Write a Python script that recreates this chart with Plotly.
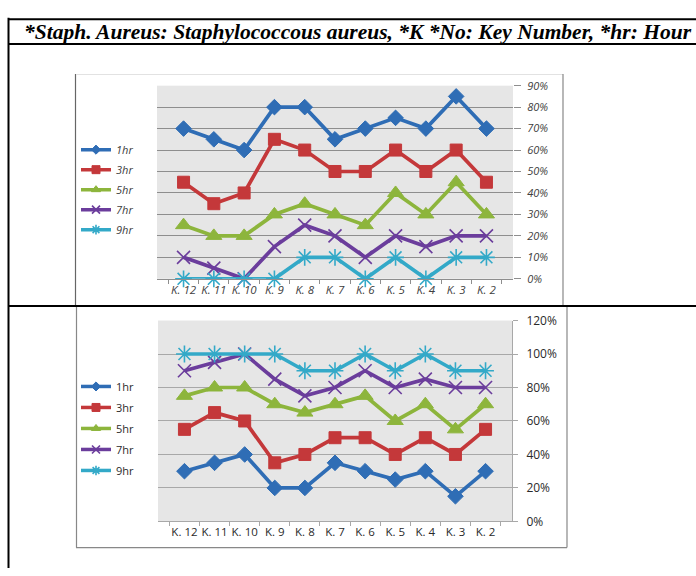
import plotly.graph_objects as go

# ---------------- data ----------------
categories = ["K. 12", "K. 11", "K. 10", "K. 9", "K. 8", "K. 7", "K. 6", "K. 5", "K. 4", "K. 3", "K. 2"]
series_names = ["1hr", "3hr", "5hr", "7hr", "9hr"]

top_1hr = [70, 65, 60, 80, 80, 65, 70, 75, 70, 85, 70]
top_3hr = [45, 35, 40, 65, 60, 50, 50, 60, 50, 60, 45]
top_5hr = [25, 20, 20, 30, 35, 30, 25, 40, 30, 45, 30]
top_7hr = [10, 5, 0, 15, 25, 20, 10, 20, 15, 20, 20]
top_9hr = [0, 0, 0, 0, 10, 10, 0, 10, 0, 10, 10]

bot_1hr = [30, 35, 40, 20, 20, 35, 30, 25, 30, 15, 30]
bot_3hr = [55, 65, 60, 35, 40, 50, 50, 40, 50, 40, 55]
bot_5hr = [75, 80, 80, 70, 65, 70, 75, 60, 70, 55, 70]
bot_7hr = [90, 95, 100, 85, 75, 80, 90, 80, 85, 80, 80]
bot_9hr = [100, 100, 100, 100, 90, 90, 100, 90, 100, 90, 90]

top_ticks = [0, 10, 20, 30, 40, 50, 60, 70, 80, 90]
bot_ticks = [0, 20, 40, 60, 80, 100, 120]

header_text = "*Staph. Aureus: Staphylococcous aureus, *K *No: Key Number, *hr: Hour"

# ---------------- style ----------------
W, H = 696, 576
def px(x):
    return x / W
def py(y):
    return 1 - y / H

colors = ["#2F6DB5", "#C4383A", "#8DB53C", "#6B3D9C", "#33A9C8"]
symbols = ["diamond", "square", "triangle-up", "x-thin-open", "asterisk-open"]
sizes = [12, 12, 14, 13, 14]
legend_sizes = [7, 8, 8, 8, 8]
grid_top = "#8E8E8E"
grid_bot = "#A8A8A8"

fig = go.Figure()

def marker(i, size):
    mk = dict(symbol=symbols[i], size=size, color=colors[i])
    if symbols[i].endswith("open"):
        mk["line"] = dict(color=colors[i], width=1.6)
    else:
        mk["line"] = dict(color=colors[i], width=1)
    return mk

def add_series(values_list, xa, ya, legend, prefix):
    for i, (name, vals) in enumerate(zip(series_names, values_list)):
        fig.add_trace(go.Scatter(
            x=categories, y=vals, name=name, mode="lines+markers",
            line=dict(color=colors[i], width=3.7),
            marker=marker(i, sizes[i]), xaxis=xa, yaxis=ya,
            legendgroup=prefix + name, showlegend=False, cliponaxis=False,
        ))
        # legend entry (small marker, like the original legend)
        fig.add_trace(go.Scatter(
            x=[None], y=[None], name=name, mode="lines+markers",
            line=dict(color=colors[i], width=3.5),
            marker=marker(i, legend_sizes[i]), xaxis=xa, yaxis=ya,
            legend=legend, legendgroup=prefix + name, showlegend=True,
        ))

add_series([top_1hr, top_3hr, top_5hr, top_7hr, top_9hr], "x", "y", "legend", "t")
add_series([bot_1hr, bot_3hr, bot_5hr, bot_7hr, bot_9hr], "x2", "y2", "legend2", "b")

top_xfont = dict(family="Open Sans", size=11.5, color="#404040", style="italic")
top_yfont = dict(family="Open Sans", size=11, color="#404040", style="italic")
bot_xfont = dict(family="Open Sans", size=11.5, color="#2A2A2A")
bot_yfont = dict(family="Open Sans", size=12, color="#2A2A2A")

shapes = []
def line(x0, y0, x1, y1, color="black", width=2):
    shapes.append(dict(type="line", xref="paper", yref="paper",
                       x0=px(x0), y0=py(y0), x1=px(x1), y1=py(y1),
                       line=dict(color=color, width=width)))

# chart image frames
line(75.5, 67, 75.5, 306, "#666666", 1.2)
line(76, 67.5, 563, 67.5, "#E2E2E2", 1)
line(563, 67, 563, 306, "#888888", 1.2)
line(76.5, 307, 76.5, 555, "#888888", 1.2)
line(76, 555, 567, 555, "#888888", 1.2)
line(567, 307, 567, 555, "#888888", 1.2)
# table lines
line(8.5, 9, 8.5, 576)
line(8, 10.5, 696, 10.5)
line(8, 36, 696, 36)
line(8, 306, 696, 306)

fig.update_layout(
    width=W, height=H,
    margin=dict(l=0, r=0, t=0, b=0),
    paper_bgcolor="white",
    plot_bgcolor="#E6E6E6",
    shapes=shapes,
    xaxis=dict(domain=[px(157), px(513)], anchor="y", type="category",
               tickson="boundaries", ticks="outside", ticklen=4, tickcolor=grid_top,
               showline=True, linecolor=grid_top, linewidth=1, showgrid=False,
               tickangle=0, tickfont=top_xfont),
    yaxis=dict(domain=[py(278), py(79)], anchor="x", side="right", range=[0, 90],
               tickvals=top_ticks, ticktext=[f"{v}%" for v in top_ticks],
               showgrid=True, gridcolor=grid_top, gridwidth=1, zeroline=False,
               ticks="outside", ticklen=7, tickcolor=grid_top, ticklabelstandoff=4,
               showline=False, tickfont=top_yfont),
    xaxis2=dict(domain=[px(158), px(512)], anchor="y2", type="category",
                tickson="boundaries", ticks="outside", ticklen=4, tickcolor=grid_bot,
                showline=True, linecolor=grid_bot, linewidth=1, showgrid=False,
                tickangle=0, tickfont=bot_xfont),
    yaxis2=dict(domain=[py(528), py(321)], anchor="x2", side="right", range=[0, 120],
                tickvals=bot_ticks, ticktext=[f"{v}%" for v in bot_ticks],
                showgrid=True, gridcolor=grid_bot, gridwidth=1, zeroline=False,
                ticks="outside", ticklen=5, tickcolor=grid_bot, ticklabelstandoff=6,
                showline=True, linecolor=grid_bot, linewidth=1, tickfont=bot_yfont),
    legend=dict(x=px(76), y=py(130), xanchor="left", yanchor="top",
                bgcolor="rgba(0,0,0,0)", borderwidth=0, tracegroupgap=1,
                itemwidth=30, font=dict(family="Open Sans", size=11, color="#404040", style="italic")),
    legend2=dict(x=px(76), y=py(374), xanchor="left", yanchor="top",
                 bgcolor="rgba(0,0,0,0)", borderwidth=0, tracegroupgap=2,
                 itemwidth=30, font=dict(family="Open Sans", size=11, color="#2A2A2A")),
    annotations=[dict(text="<b><i>" + header_text + "</i></b>", xref="paper", yref="paper",
                      x=px(358), y=py(23.5), xanchor="center", yanchor="middle",
                      showarrow=False,
                      font=dict(family="Liberation Serif", size=21.5, color="black"))],
)

fig.write_html("out.html", config={"displayModeBar": False},
               post_script="document.documentElement.style.margin='0';document.body.style.margin='0';document.body.style.padding='0';document.body.style.overflow='hidden';")
